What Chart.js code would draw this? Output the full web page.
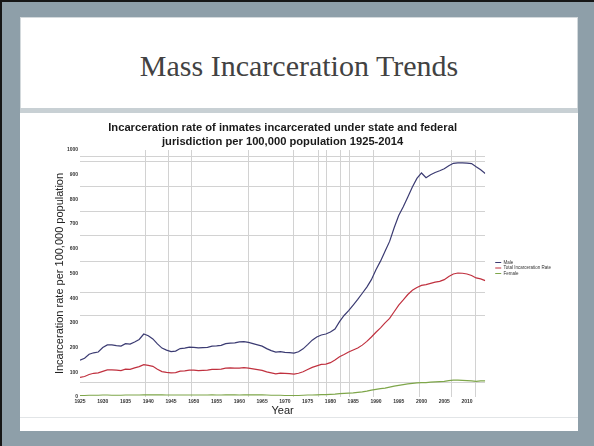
<!DOCTYPE html>
<html>
<head>
<meta charset="utf-8">
<title>Mass Incarceration Trends</title>
<script src="https://cdn.jsdelivr.net/npm/chart.js@4.4.1/dist/chart.umd.min.js"></script>
<style>
    html, body { margin: 0; padding: 0; }
    body { width: 594px; height: 446px; position: relative; overflow: hidden; background: #8e9fa9; }
    .edge-top { position: absolute; left: 0; top: 0; width: 594px; height: 2px; background: #161616; }
    .edge-left { position: absolute; left: 0; top: 0; width: 2px; height: 446px; background: #161616; }
    .head { position: absolute; left: 20px; top: 17px; width: 556px; height: 90px; background: #fff; border: 1px solid #d3d9dc; }
    .head h1 { margin: 0; font-family: "Liberation Serif", serif; font-weight: normal; font-size: 30px; color: #424242; text-align: center; line-height: 96px; }
    .sep { position: absolute; left: 20px; top: 108px; width: 558px; height: 5px; background: #c8d0d4; }
    .panel { position: absolute; left: 20px; top: 113px; width: 558px; height: 318px; background: #fff; }
    .foot-line { position: absolute; left: 20px; top: 417px; width: 558px; height: 1px; background: #e2e5e7; }
    #wrap { position: absolute; left: 24px; top: 113px; width: 554px; height: 305px; }
</style>
</head>
<body>
<div class="edge-top"></div>
<div class="edge-left"></div>
<div class="head"><h1>Mass Incarceration Trends</h1></div>
<div class="sep"></div>
<div class="panel"></div>
<div class="foot-line"></div>
<div id="wrap"><canvas id="chart"></canvas></div>

<script>
// Incarceration rates per 100,000 population, 1925-2014
const years = [
    1925, 1926, 1927, 1928, 1929, 1930, 1931, 1932, 1933, 1934,
    1935, 1936, 1937, 1938, 1939, 1940, 1941, 1942, 1943, 1944,
    1945, 1946, 1947, 1948, 1949, 1950, 1951, 1952, 1953, 1954,
    1955, 1956, 1957, 1958, 1959, 1960, 1961, 1962, 1963, 1964,
    1965, 1966, 1967, 1968, 1969, 1970, 1971, 1972, 1973, 1974,
    1975, 1976, 1977, 1978, 1979, 1980, 1981, 1982, 1983, 1984,
    1985, 1986, 1987, 1988, 1989, 1990, 1991, 1992, 1993, 1994,
    1995, 1996, 1997, 1998, 1999, 2000, 2001, 2002, 2003, 2004,
    2005, 2006, 2007, 2008, 2009, 2010, 2011, 2012, 2013, 2014
];

const male = [
    149, 157, 173, 179, 182, 200, 211, 211, 208, 206,
    216, 214, 223, 233, 255, 248, 235, 215, 198, 190,
    184, 186, 196, 198, 202, 201, 199, 200, 201, 206,
    207, 209, 216, 218, 219, 223, 224, 221, 216, 211,
    206, 196, 188, 182, 184, 181, 180, 178, 183, 195,
    212, 230, 243, 251, 255, 263, 275, 305, 330, 350,
    372, 395, 420, 445, 475, 515, 550, 590, 630, 685,
    735, 770, 810, 850, 885, 907, 888, 900, 909, 916,
    924, 936, 946, 948, 948, 947, 945, 932, 920, 905
];

const total = [
    79, 83, 91, 96, 98, 104, 110, 110, 109, 107,
    113, 112, 118, 123, 131, 128, 124, 112, 103, 100,
    98, 99, 105, 106, 109, 109, 107, 108, 109, 112,
    112, 113, 117, 118, 117, 117, 119, 117, 114, 111,
    108, 102, 98, 94, 97, 96, 95, 93, 96, 102,
    111, 120, 126, 132, 133, 139, 150, 163, 172, 182,
    190, 198, 210, 225, 243, 262, 280, 300, 318, 345,
    372, 393, 415, 432, 443, 452, 455, 460, 465, 468,
    475, 488, 498, 502, 501, 498, 492, 482, 478, 471
];

const female = [
    6, 6, 7, 7, 7, 8, 8, 7, 7, 7,
    8, 8, 8, 8, 9, 9, 9, 9, 9, 8,
    8, 8, 8, 8, 8, 8, 8, 8, 8, 9,
    8, 8, 9, 9, 9, 8, 9, 9, 9, 9,
    9, 8, 7, 7, 7, 6, 6, 6, 6, 7,
    8, 8, 9, 10, 10, 11, 12, 14, 15, 16,
    17, 19, 21, 24, 28, 31, 34, 36, 40, 44,
    47, 50, 53, 55, 57, 58, 58, 60, 61, 62,
    63, 66, 68, 68, 67, 66, 65, 63, 65, 65
];

const seriesNames = ['Male', 'Total Incarceration Rate', 'Female'];

// axis ticks and the (irregular) grid lines of the original picture
const xTickLabels = [1925, 1930, 1935, 1940, 1945, 1950, 1955, 1960, 1965, 1970,
                     1975, 1980, 1985, 1990, 1995, 2000, 2005, 2010];
const yTickLabels = [0, 100, 200, 300, 400, 500, 600, 700, 800, 900, 1000];
const xGridYears = [1939.3, 1944.4, 1949.5, 1961.9, 1972, 1977.3, 1979.1,
                    1982.2, 1984.2, 1989.5, 1999.6, 2006.5, 2011.8];
const yGridValues = [57, 328, 425, 547, 652, 753, 854, 955, 972];

const toPoints = values => years.map((yr, i) => ({ x: yr, y: values[i] }));

const tickFont = { family: 'Liberation Sans', size: 5, weight: 'bold' };
const gridColor = '#d2d2d2';

document.addEventListener('DOMContentLoaded', () => {
    const ctx = document.getElementById('chart').getContext('2d');
    new Chart(ctx, {
        type: 'line',
        data: {
            datasets: [
                { label: seriesNames[0], data: toPoints(male), borderColor: '#3b3b72', backgroundColor: '#3b3b72' },
                { label: seriesNames[1], data: toPoints(total), borderColor: '#c0313f', backgroundColor: '#c0313f' },
                { label: seriesNames[2], data: toPoints(female), borderColor: '#7ea64a', backgroundColor: '#7ea64a' }
            ]
        },
        options: {
            responsive: true,
            maintainAspectRatio: false,
            animation: false,
            layout: { padding: { top: 5, right: 17, bottom: 0, left: 0 } },
            elements: {
                point: { radius: 0 },
                line: { borderWidth: 1.2, tension: 0 }
            },
            plugins: {
                title: {
                    display: true,
                    fullSize: false,
                    text: ['Incarceration rate of inmates incarcerated under state and federal',
                           'jurisdiction per 100,000 population 1925-2014'],
                    color: '#1a1a1a',
                    font: { family: 'Liberation Sans', size: 11.2, weight: 'bold', lineHeight: 1.25 },
                    padding: { top: 3, bottom: 1 }
                },
                legend: {
                    position: 'right',
                    labels: {
                        usePointStyle: true,
                        pointStyle: 'line',
                        pointStyleWidth: 6,
                        boxHeight: 4,
                        padding: 1,
                        color: '#333',
                        font: { family: 'Liberation Sans', size: 4.5 }
                    }
                },
                tooltip: { enabled: false }
            },
            scales: {
                x: {
                    type: 'linear',
                    min: 1925,
                    max: 2014,
                    afterBuildTicks: scale => { scale.ticks = xTickLabels.map(v => ({ value: v })); },
                    afterFit: scale => { scale.height = 21; },
                    grid: { display: false, drawTicks: false },
                    border: { display: false },
                    ticks: {
                        autoSkip: false,
                        maxRotation: 0,
                        padding: 2,
                        color: '#333',
                        font: tickFont,
                        callback: v => String(v)
                    },
                    title: {
                        display: true,
                        text: 'Year',
                        color: '#222',
                        font: { family: 'Liberation Sans', size: 11 },
                        padding: { top: 0, bottom: 0 }
                    }
                },
                xGrid: {
                    type: 'linear',
                    position: 'top',
                    min: 1925,
                    max: 2014,
                    afterBuildTicks: scale => { scale.ticks = xGridYears.map(v => ({ value: v })); },
                    afterFit: scale => { scale.height = 0; },
                    ticks: { display: false },
                    border: { display: false },
                    grid: { color: gridColor, drawTicks: false }
                },
                y: {
                    min: 0,
                    max: 1000,
                    afterBuildTicks: scale => { scale.ticks = yTickLabels.map(v => ({ value: v })); },
                    afterFit: scale => { scale.width = 56; },
                    grid: { display: false, drawTicks: false },
                    border: { display: false },
                    ticks: { padding: 2, color: '#333', font: tickFont, callback: v => String(v) },
                    title: {
                        display: true,
                        text: 'Incarceration rate per 100,000 population',
                        color: '#222',
                        font: { family: 'Liberation Sans', size: 11 },
                        padding: { top: 29, bottom: 0 }
                    }
                },
                yGrid: {
                    position: 'right',
                    min: 0,
                    max: 1000,
                    afterBuildTicks: scale => { scale.ticks = yGridValues.map(v => ({ value: v })); },
                    afterFit: scale => { scale.width = 9; },
                    ticks: { display: false },
                    border: { display: false },
                    grid: { color: gridColor, drawTicks: false }
                }
            }
        }
    });
});
</script>
</body>
</html>
